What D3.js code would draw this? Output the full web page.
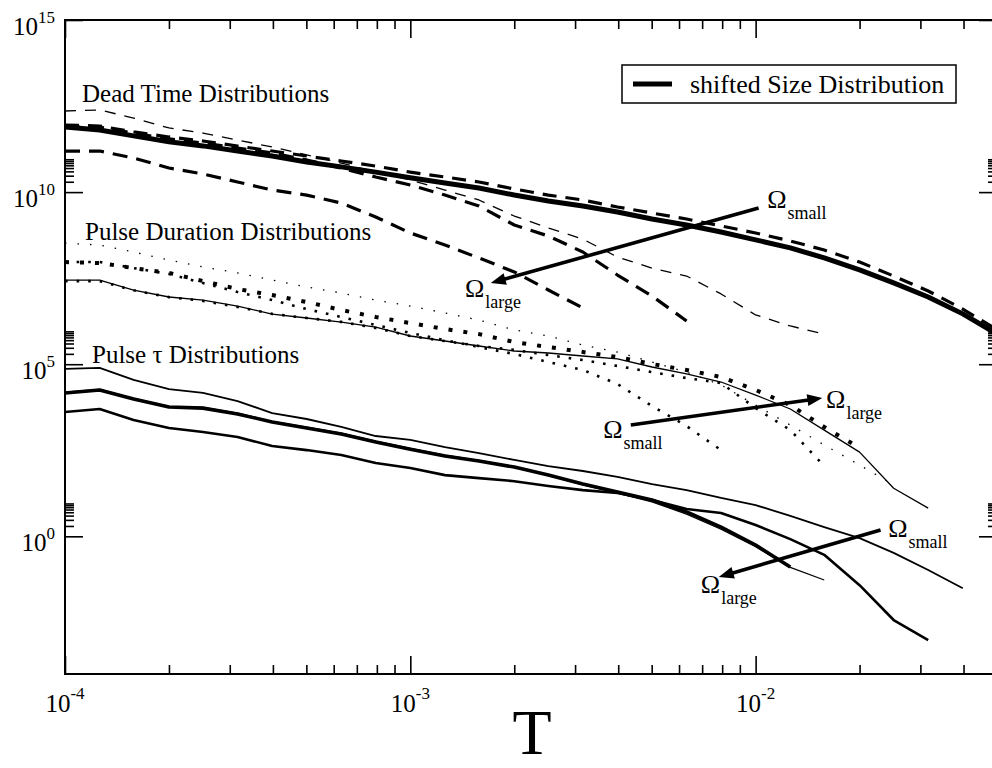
<!DOCTYPE html>
<html><head><meta charset="utf-8">
<script src="https://cdn.jsdelivr.net/npm/d3@7"></script>
<style>
body{margin:0;background:#fff}
svg{display:block}
text{font-family:"Liberation Serif","Times New Roman",serif;fill:#000}
</style>
</head><body>
<svg id="c" width="992" height="768"></svg>
<script>
// ---------- data ----------
const T = [1e-4,1.26e-4,1.58e-4,2.0e-4,2.51e-4,3.16e-4,3.98e-4,5.01e-4,6.31e-4,7.94e-4,
           1e-3,1.26e-3,1.58e-3,2.0e-3,2.51e-3,3.16e-3,3.98e-3,5.01e-3,6.31e-3,7.94e-3,
           1e-2,1.26e-2,1.58e-2,2.0e-2,2.51e-2,3.16e-2,3.98e-2,5.01e-2];

// shifted size distribution (thick solid, legend)
const shiftedSize = [7.8e11,6.4e11,4.3e11,2.9e11,2.2e11,1.56e11,1.12e11,7.5e10,5.4e10,3.8e10,
                     2.6e10,1.84e10,1.32e10,8.2e9,5.5e9,3.95e9,2.64e9,1.65e9,1.11e9,6.9e8,
                     4.1e8,2.4e8,1.22e8,5.5e7,2.3e7,9.0e6,2.9e6,7.5e5];

// dead time distributions (dashed)
const deadSmall = [8.9e11,8.3e11,5.6e11,4.0e11,3.05e11,2.18e11,1.56e11,1.12e11,8.0e10,5.7e10,
                   3.8e10,2.75e10,1.97e10,1.23e10,8.2e9,5.9e9,3.7e9,2.47e9,1.65e9,1.04e9,
                   6.5e8,3.8e8,2.08e8,9.3e7,3.65e7,1.34e7,4.0e6,9.9e5];
const deadThin  = [2.27e12,2.43e12,1.42e12,7.3e11,5.2e11,3.26e11,2.04e11,1.2e11,7.0e10,3.84e10,
                   2.25e10,1.15e10,5.9e9,2.02e9,9.1e8,4.3e8,1.3e8,6.2e7,3.65e7,1.1e7,
                   2.7e6,1.29e6,7.5e5];
const deadMid   = [7.8e11,7.8e11,5.2e11,3.5e11,2.67e11,1.91e11,1.37e11,8.6e10,5.0e10,2.75e10,
                   1.61e10,8.2e9,3.95e9,1.11e9,5.3e8,1.82e8,3.9e7,9.6e6,1.8e6];
const deadLarge = [1.56e11,1.56e11,9.8e10,5.0e10,3.36e10,1.97e10,1.15e10,8.2e9,4.8e9,1.89e9,
                   6.5e8,2.9e8,1.22e8,4.8e7,1.43e7,4.3e6];

// pulse duration distributions (dotted + thin solid)
const pdThin  = [2.79e7,2.79e7,1.43e7,8.96e6,7.3e6,4.9e6,2.87e6,2.2e6,1.68e6,1.2e6,
                 6.6e5,4.72e5,3.38e5,2.42e5,2.12e5,1.73e5,1.42e5,8.3e4,5.2e4,3.04e4,
                 1.27e4,5.0e3,1.22e3,2.8e2,25,6.6];
const pdBold  = [9.3e7,8.7e7,6.2e7,4.5e7,2.61e7,1.53e7,1.02e7,6.4e6,3.76e6,2.35e6,
                 1.57e6,1.05e6,7.5e5,4.4e5,3.16e5,2.26e5,1.62e5,1.01e5,6.8e4,4.25e4,
                 1.78e4,6.5e3,1.5e3,3.7e2];
const pdFine  = [3.3e8,2.9e8,1.82e8,1.06e8,6.7e7,4.5e7,2.79e7,1.75e7,1.17e7,7.3e6,
                 4.9e6,3.07e6,1.92e6,9.9e5,6.6e5,3.6e5,2.26e5,1.16e5,5.9e4,2.49e4,
                 6.5e3,1.71e3,4.5e2,1.18e2,31];
const pdMid   = [2.6e7,2.6e7,1.4e7,8.9e6,6.9e6,4.6e6,2.9e6,2.2e6,1.7e6,1.13e6,
                 6.6e5,4.7e5,3.4e5,2.6e5,1.85e5,1.32e5,8.9e4,5.9e4,3.97e4,2.84e4,
                 5.3e3,1.22e3,1.1e2];
const pdSmall = [9.3e7,9.3e7,6.2e7,4.2e7,2.29e7,1.25e7,7.3e6,4.0e6,2.35e6,1.38e6,
                 8.1e5,5.0e5,3.16e5,1.98e5,1.16e5,6.8e4,2.66e4,6.1e3,1.6e3,3.2e2];

// pulse tau distributions (solid)
const tauSmall = [7.3e4,7.8e4,3.5e4,1.9e4,1.46e4,8.5e3,3.8e3,2.56e3,1.5e3,8.2e2,
                  6.3e2,3.9e2,2.63e2,1.65e2,1.1e2,79,53,33,22,13,
                  8.1,3.9,1.86,0.89,0.33,0.105,0.031];
const tauLarge = [1.46e4,1.78e4,9.8e3,5.7e3,5.3e3,3.6e3,2.09e3,1.4e3,9.4e2,5.5e2,
                  3.4e2,2.15e2,1.54e2,1.03e2,60,33,19.4,11.3,5.1,1.86,
                  0.56,0.128];
const tauThin  = [1.55e4,1.85e4,1.02e4,6.0e3,5.6e3,3.8e3,2.2e3,1.48e3,1.0e3,5.8e2,
                  3.6e2,2.3e2,1.6e2,1.05e2,58,31,18,10,4.4,1.6,
                  0.5,0.125,0.054];
const tauMid   = [4.1e3,5.0e3,2.39e3,1.4e3,1.07e3,7.7e2,4.2e2,3.2e2,2.3e2,1.35e2,
                  96,60,49,40,29,22,18.1,11.3,6.2,4.75,
                  2.13,0.83,0.29,0.038,0.0037,0.00097];

// tick labels
const xMajor = [1e-4,1e-3,1e-2];
const xLabels = ["-4","-3","-2"];
const yMajor = [1e0,1e5,1e10,1e15];
const yLabels = ["0","5","10","15"];

// annotation arrows [x1,y1,x2,y2] (data units, arrow at second point)
const arrows = [
  [1.02e-2,3.45e9, 1.71e-3,2.29e7],
  [4.35e-3,1.71e3, 1.56e-2,1.04e4],
  [2.30e-2,1.52,   7.82e-3,0.0656]
];
// Omega labels [x, y, subscript]
const omegaLabels = [
  [1.08e-2,3.45e9,"small"],
  [1.44e-3,8.96e6,"large"],
  [3.62e-3,7.2e2,"small"],
  [1.60e-2,5.3e3,"large"],
  [2.42e-2,0.95,"small"],
  [6.94e-3,0.0225,"large"]
];

// ---------- drawing ----------
const svg = d3.select("#c");
svg.append("rect").attr("width",992).attr("height",768).attr("fill","#fff");

const L = 65, R = 997, TOP = 20, B = 674;
const x = d3.scaleLog().domain([1e-4,5e-2]).range([L,R]);
const y = d3.scaleLog().domain([1e-4,1e15]).range([B,TOP]);

svg.append("defs").append("clipPath").attr("id","clip")
  .append("rect").attr("x",L).attr("y",TOP).attr("width",R-L).attr("height",B-TOP);

const plot = svg.append("g").attr("clip-path","url(#clip)");
const line = d3.line().x((d,i)=>x(T[i])).y(d=>y(d));

const series = [
  {d:pdFine,  w:1.3, dash:"1.5,11"},
  {d:pdThin,  w:1.3, dash:null},
  {d:pdMid,   w:2.6, dash:"2.6,9"},
  {d:pdSmall, w:2.6, dash:"2.6,9"},
  {d:pdBold,  w:4,   dash:"4,11"},
  {d:deadThin,  w:1.3, dash:"11,9"},
  {d:deadLarge, w:3.2, dash:"15,9"},
  {d:deadMid,   w:3.2, dash:"15,9"},
  {d:shiftedSize, w:5, dash:null},
  {d:deadSmall, w:3.2, dash:"14,9"},
  {d:tauThin,  w:1.2, dash:null},
  {d:tauMid,   w:2.6, dash:null},
  {d:tauSmall, w:1.8, dash:null},
  {d:tauLarge, w:3.6, dash:null}
];
series.forEach(s=>{
  plot.append("path").attr("d",line(s.d)).attr("fill","none")
    .attr("stroke","#000").attr("stroke-width",s.w)
    .attr("stroke-linejoin","round")
    .attr("stroke-dasharray",s.dash);
});

// axes ticks (inward)
function minorOf(majors, maxV){
  const out=[];
  majors.forEach(m=>{for(let k=2;k<=9;k++){const v=k*m; if(v<=maxV) out.push(v);}});
  return out;
}
const xMinor = minorOf(xMajor,5e-2);
const yMinor = minorOf([1e0,1e5,1e10],1e15);

function tickAxis(gen, vals, size, tx, ty){
  const g = svg.append("g").attr("transform",`translate(${tx},${ty})`)
    .call(gen.tickValues(vals).tickSize(size).tickFormat(""));
  g.select(".domain").remove();
  g.selectAll(".tick line").attr("stroke","#000").attr("stroke-width",1.6);
}
tickAxis(d3.axisBottom(x), xMajor, -18, 0, B);
tickAxis(d3.axisBottom(x), xMinor, -9, 0, B);
tickAxis(d3.axisTop(x), xMajor, -18, 0, TOP);
tickAxis(d3.axisTop(x), xMinor, -9, 0, TOP);
tickAxis(d3.axisLeft(y), yMajor, -18, L, 0);
tickAxis(d3.axisLeft(y), yMinor, -9, L, 0);
tickAxis(d3.axisRight(y), yMajor, -18, R, 0);
tickAxis(d3.axisRight(y), yMinor, -9, R, 0);

// frame
svg.append("rect").attr("x",L).attr("y",TOP).attr("width",R-L).attr("height",B-TOP)
  .attr("fill","none").attr("stroke","#000").attr("stroke-width",2);

// tick labels
xMajor.forEach((v,i)=>{
  const t = svg.append("text").attr("x",x(v)).attr("y",712).attr("text-anchor","middle")
    .attr("font-size",25);
  t.append("tspan").text("10");
  t.append("tspan").attr("font-size",17).attr("dy",-13).text(xLabels[i]);
});
yMajor.forEach((v,i)=>{
  const t = svg.append("text").attr("x",55).attr("y",y(v)+15).attr("text-anchor","end")
    .attr("font-size",25);
  t.append("tspan").text("10");
  t.append("tspan").attr("font-size",17).attr("dy",-12).text(yLabels[i]);
});

// axis title
svg.append("text").attr("x",532).attr("y",754).attr("text-anchor","middle")
  .attr("font-size",64).text("T");

// group annotations
svg.append("text").attr("x",82).attr("y",102).attr("font-size",25).text("Dead Time Distributions");
svg.append("text").attr("x",85).attr("y",240).attr("font-size",25).text("Pulse Duration Distributions");
svg.append("text").attr("x",92).attr("y",363).attr("font-size",25).text("Pulse \u03c4 Distributions");

// arrows
arrows.forEach(a=>{
  const x1=x(a[0]), y1=y(a[1]), x2=x(a[2]), y2=y(a[3]);
  const ang=Math.atan2(y2-y1,x2-x1), len=15, hw=6;
  const bx=x2-len*Math.cos(ang), by=y2-len*Math.sin(ang);
  svg.append("line").attr("x1",x1).attr("y1",y1).attr("x2",bx+3*Math.cos(ang)).attr("y2",by+3*Math.sin(ang))
    .attr("stroke","#000").attr("stroke-width",3.6);
  const px=-Math.sin(ang), py=Math.cos(ang);
  svg.append("path").attr("d",`M${x2},${y2}L${bx+hw*px},${by+hw*py}L${bx-hw*px},${by-hw*py}Z`)
    .attr("fill","#000");
});

// omega labels
omegaLabels.forEach(o=>{
  const t = svg.append("text").attr("x",x(o[0])).attr("y",y(o[1])).attr("font-size",26);
  t.append("tspan").text("\u03a9");
  t.append("tspan").attr("font-size",18).attr("dy",11).attr("dx",1).text(o[2]);
});

// legend
svg.append("rect").attr("x",622).attr("y",65).attr("width",334).attr("height",38)
  .attr("fill","#fff").attr("stroke","#000").attr("stroke-width",1.5);
svg.append("line").attr("x1",633).attr("x2",672).attr("y1",84).attr("y2",84)
  .attr("stroke","#000").attr("stroke-width",5);
svg.append("text").attr("x",690).attr("y",93).attr("font-size",26).text("shifted Size Distribution");
</script>
</body></html>
